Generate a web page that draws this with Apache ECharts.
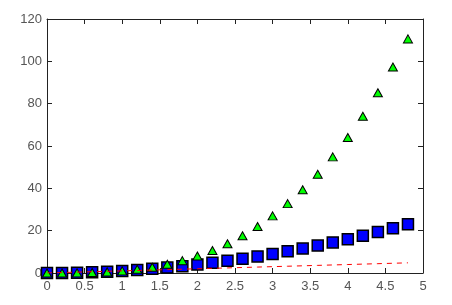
<!DOCTYPE html>
<html><head><meta charset="utf-8">
<script src="https://cdn.jsdelivr.net/npm/echarts@6/dist/echarts.min.js"></script>
<style>html,body{margin:0;padding:0;background:#fff}#c{width:452px;height:305px}</style>
</head><body><div id="c"></div>
<script>
const tValues = [0,0.2,0.4,0.6,0.8,1,1.2,1.4,1.6,1.8,2,2.2,2.4,2.6,2.8,3,3.2,3.4,3.6,3.8,4,4.2,4.4,4.6,4.8];
const linear = [0,0.2,0.4,0.6,0.8,1,1.2,1.4,1.6,1.8,2,2.2,2.4,2.6,2.8,3,3.2,3.4,3.6,3.8,4,4.2,4.4,4.6,4.8];
const squares = [0,0.04,0.16,0.36,0.64,1,1.44,1.96,2.56,3.24,4,4.84,5.76,6.76,7.84,9,10.24,11.56,12.96,14.44,16,17.64,19.36,21.16,23.04];
const cubes = [0,0.008,0.064,0.216,0.512,1,1.728,2.744,4.096,5.832,8,10.648,13.824,17.576,21.952,27,32.768,39.304,46.656,54.872,64,74.088,85.184,97.336,110.592];
const xTicks = [0,0.5,1,1.5,2,2.5,3,3.5,4,4.5,5];
const yTicks = [0,20,40,60,80,100,120];

const pairs = arr => tValues.map((t,i)=>[t,arr[i]]);
const axisCommon = {
  type:'value', splitLine:{show:false},
  axisLine:{show:true,onZero:false,lineStyle:{color:'#222',width:1}},
  axisTick:{show:true,inside:true,length:5,lineStyle:{color:'#222'}},
};
const chart = echarts.init(document.getElementById('c'));
chart.setOption({
  animation:false,
  grid:{left:47,right:29,top:19,bottom:32},
  xAxis:[
    Object.assign({},axisCommon,{position:'bottom',min:xTicks[0],max:xTicks[xTicks.length-1],interval:0.5,
      axisLabel:{color:'#555',fontFamily:'Liberation Sans, Arial',fontSize:13,margin:7}}),
    Object.assign({},axisCommon,{position:'top',min:0,max:5,interval:0.5,axisLabel:{show:false}})
  ],
  yAxis:[
    Object.assign({},axisCommon,{position:'left',min:yTicks[0],max:yTicks[yTicks.length-1],interval:20,
      axisLabel:{color:'#555',fontFamily:'Liberation Sans, Arial',fontSize:13,margin:5}}),
    Object.assign({},axisCommon,{position:'right',min:0,max:120,interval:20,axisLabel:{show:false}})
  ],
  series:[
    {type:'line',data:pairs(linear),showSymbol:false,symbol:'none',lineStyle:{color:'#ff0000',type:[5,5],width:1}},
    {type:'scatter',data:pairs(squares),symbol:'rect',symbolSize:11,itemStyle:{color:'#0000ff',opacity:1,borderColor:'#000',borderWidth:1.5}},
    {type:'scatter',data:pairs(cubes),symbol:'triangle',symbolSize:[9,8],itemStyle:{color:'#00ff00',opacity:1,borderColor:'#000',borderWidth:1}}
  ]
});
</script></body></html>
